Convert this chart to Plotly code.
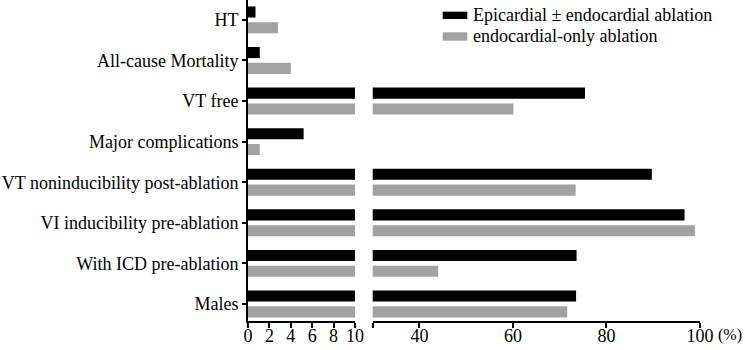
import plotly.graph_objects as go

categories = ["Males", "With ICD pre-ablation", "VI inducibility pre-ablation",
              "VT noninducibility post-ablation", "Major complications", "VT free",
              "All-cause Mortality", "HT"]
epi_values = [73.5, 73.6, 96.7, 89.7, 5.2, 75.4, 1.1, 0.7]
endo_values = [71.6, 44.0, 98.9, 73.4, 1.1, 60.1, 4.0, 2.8]
series_names = ["Epicardial \u00b1 endocardial ablation", "endocardial-only ablation"]
series_colors = ["#000000", "#a2a2a4"]
left_ticks = [0, 2, 4, 6, 8, 10]
right_ticks = [30, 40, 60, 80, 100]
right_ticklabels = ["", "40", "60", "80", "100"]

FONT = "Liberation Serif"

fig = go.Figure()
for xa in ["x", "x2"]:
    # gray first so it sits below black within each group
    fig.add_trace(go.Bar(y=categories, x=endo_values, orientation="h", name=series_names[1],
                         marker=dict(color=series_colors[1], line=dict(width=0)),
                         xaxis=xa, yaxis="y", showlegend=False))
    fig.add_trace(go.Bar(y=categories, x=epi_values, orientation="h", name=series_names[0],
                         marker=dict(color=series_colors[0], line=dict(width=0)),
                         xaxis=xa, yaxis="y", showlegend=False))

L, R, T, B = 248, 45, 0, 29
W, H = 745, 350
pw = W - L - R
ph = H - T - B

def px(x):
    return (x - L) / pw

def py(y):
    return 1 - (y - T) / ph

axis_common = dict(showline=True, linecolor="black", linewidth=2, ticks="outside",
                   ticklen=5, tickwidth=2, tickcolor="black", showgrid=False,
                   zeroline=False, automargin=False, ticklabelstandoff=-8,
                   tickfont=dict(family=FONT, size=18, color="black"))

fig.update_layout(
    template="none",
    width=W, height=H,
    margin=dict(l=L, r=R, t=T, b=B, autoexpand=False),
    plot_bgcolor="white", paper_bgcolor="white",
    barmode="group", bargap=0.22, bargroupgap=0.3,
    showlegend=False,
    xaxis=dict(domain=[0, px(355)], range=[0, 10], tickvals=left_ticks, anchor="y",
               **axis_common),
    xaxis2=dict(domain=[px(372.7), 1], range=[30, 100], tickvals=right_ticks,
                ticktext=right_ticklabels, anchor="y", **axis_common),
    yaxis=dict(range=[-0.42, 7.49], showline=True, linecolor="black", linewidth=2,
               ticks="outside", ticklen=4, tickwidth=2, tickcolor="black",
               showgrid=False, zeroline=False, anchor="x", automargin=False,
               tickfont=dict(family=FONT, size=18, color="black")),
)

# custom legend
leg = [(11.7, 19.0, 15.2), (32.3, 40.7, 36.5)]
for (y0, y1, yc), name, col in zip(leg, series_names, series_colors):
    fig.add_shape(type="rect", xref="paper", yref="paper", x0=px(442.7), x1=px(467.3),
                  y0=py(y1), y1=py(y0), fillcolor=col, line=dict(width=0))
    fig.add_annotation(text=name, xref="paper", yref="paper", x=px(471), y=py(yc),
                       xanchor="left", yanchor="middle", showarrow=False,
                       font=dict(family=FONT, size=18, color="black"))

fig.add_annotation(text="(%)", xref="paper", yref="paper", x=px(744), y=py(335),
                   xanchor="right", yanchor="middle", showarrow=False,
                   font=dict(family=FONT, size=16, color="black"))

fig.write_html("out.html", config={"displayModeBar": False},
               post_script="document.body.style.margin='0';")
